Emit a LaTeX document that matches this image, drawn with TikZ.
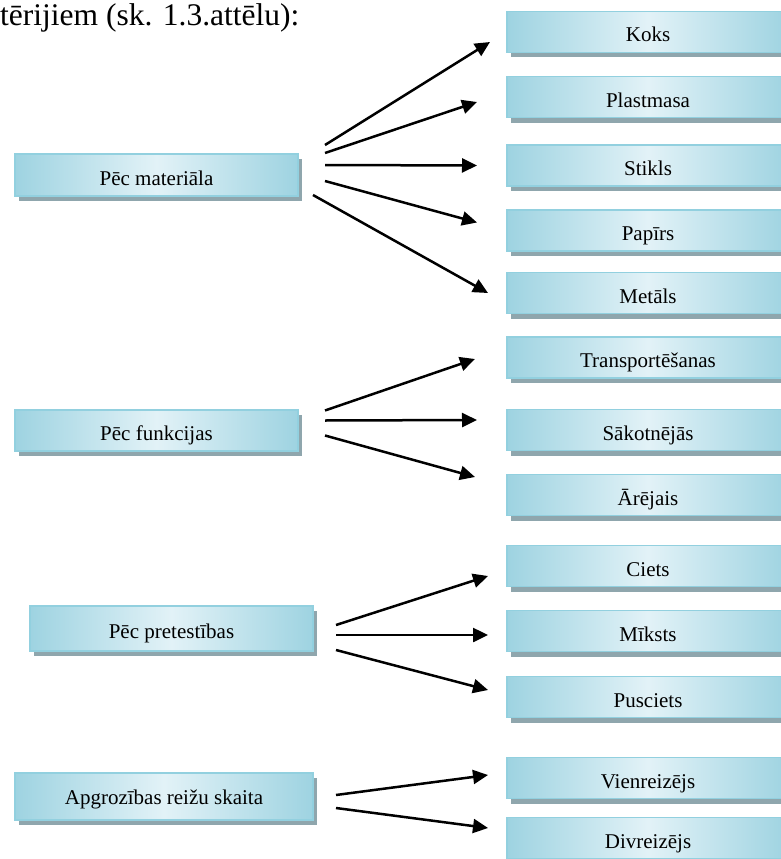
\documentclass[tikz,border=0pt]{standalone}
\usepackage{fontspec}
\setmainfont{Liberation Serif}
\usepackage{xcolor}
\usepackage{tikz}
\usetikzlibrary{arrows.meta,positioning,calc,shadows}
\definecolor{boxblue}{HTML}{9ED3E1}
\definecolor{boxpale}{HTML}{E2F2F7}
\definecolor{boxedge}{HTML}{92D0DF}
\definecolor{boxshade}{HTML}{8FA6AD}
\newcommand{\boxfont}{\fontsize{21}{24}\selectfont}
\newcommand{\headfont}{\fontsize{31.5}{36}\selectfont}

\begin{document}
\begin{tikzpicture}[
  x=1pt, y=-1pt,
  node distance=24pt,
  box/.style={draw=boxedge, line width=1.3pt, left color=boxblue,
              right color=boxblue, middle color=boxpale, inner sep=0pt,
              outer sep=0pt, minimum height=41pt, text height=20pt,
              text depth=0pt, font=\boxfont,
              general shadow={fill=boxshade, shadow xshift=4pt, shadow yshift=-5pt}},
  kind/.style={box, minimum width=282pt},
  arr/.style={-{Triangle[length=15pt,width=14pt]}, line width=2.5pt}
]
  \useasboundingbox (0,0) rectangle (780,859);
  \node[anchor=base west, inner sep=0pt, font=\headfont] (head) at (0,26) {tērijiem (sk. 1.3.attēlu):};

  \node[box, minimum width=283pt, minimum height=42pt] (mat) at (156.5,175) {Pēc materiāla};
  \node[box, minimum width=283pt] (funk) at (156.5,430.5) {Pēc funkcijas};
  \node[box, minimum width=283pt, minimum height=45pt] (pret) at (171.5,628.5) {Pēc pretestības};
  \node[box, minimum width=298pt, minimum height=47pt, text height=16pt] (apgr) at (164,796.5) {Apgrozības reižu skaita};

  \node[kind] (koks) at (648,32) {Koks};
  \node[kind, below=of koks] (plast) {Plastmasa};
  \node[kind, below=27.5pt of plast] (stikls) {Stikls};
  \node[kind, below=of stikls] (papirs) {Papīrs};
  \node[kind, below=21.5pt of papirs] (metals) {Metāls};
  \node[kind, below=23.5pt of metals] (transp) {Transportēšanas};
  \node[kind, below=31.5pt of transp] (sakot) {Sākotnējās};
  \node[kind, below=of sakot] (arejais) {Ārējais};
  \node[kind, below=30pt of arejais] (ciets) {Ciets};
  \node[kind, below=of ciets] (miksts) {Mīksts};
  \node[kind, below=25pt of miksts] (pusc) {Pusciets};
  \node[kind, below=40pt of pusc] (vien) {Vienreizējs};
  \node[kind, below=19pt of vien] (divr) {Divreizējs};

  \draw[arr] ($(mat.east)+(27,-30)$) -- ($(koks.west)+(-17,10)$);
  \draw[arr] ($(mat.east)+(27,-22)$) -- ($(plast.west)+(-30,5)$);
  \draw[arr] ($(mat.east)+(27,-10)$) -- ($(stikls.west)+(-30,0)$);
  \draw[arr] ($(mat.east)+(27,6)$) -- ($(papirs.west)+(-30,-8)$);
  \draw[arr] ($(mat.east)+(15,20)$) -- ($(metals.west)+(-19,0)$);

  \draw[arr] ($(funk.east)+(27,-20)$) -- ($(transp.west)+(-32,1.5)$);
  \draw[arr] ($(funk.east)+(27,-10)$) -- ($(sakot.west)+(-30,-10)$);
  \draw[arr] ($(funk.east)+(27,5)$) -- ($(arejais.west)+(-32,-18)$);

  \draw[arr] ($(pret.east)+(23,-3.5)$) -- ($(ciets.west)+(-19,10)$);
  \draw[arr] ($(pret.east)+(23,6.5)$) -- ($(miksts.west)+(-19,4)$);
  \draw[arr] ($(pret.east)+(23,21.5)$) -- ($(pusc.west)+(-19,-7)$);

  \draw[arr] ($(apgr.east)+(23,-1.5)$) -- ($(vien.west)+(-19,-3)$);
  \draw[arr] ($(apgr.east)+(23,11.5)$) -- ($(divr.west)+(-19,-10)$);
\end{tikzpicture}
\end{document}
